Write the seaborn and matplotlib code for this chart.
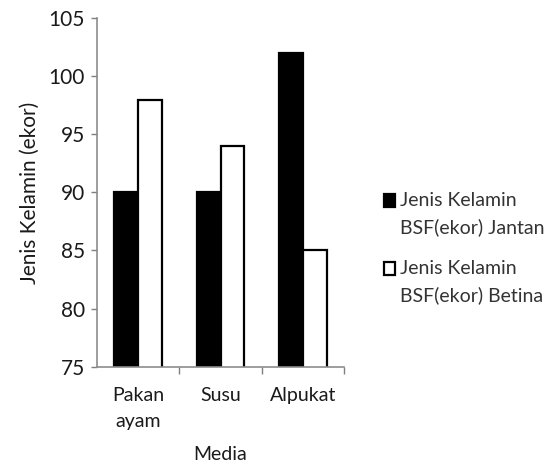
import matplotlib
matplotlib.use("Agg")
import matplotlib.pyplot as plt
import seaborn as sns
import pandas as pd
from matplotlib.patches import Rectangle
from matplotlib.legend_handler import HandlerPatch

media = ["Pakan\nayam", "Susu", "Alpukat"]
jantan = [90, 90, 102]
betina = [98, 94, 85]
series = ["Jenis Kelamin\nBSF(ekor) Jantan", "Jenis Kelamin\nBSF(ekor) Betina"]
yticks = [75, 80, 85, 90, 95, 100, 105]

df = pd.DataFrame({
    "Media": media * 2,
    "Jumlah": jantan + betina,
    "Seri": [series[0]] * len(media) + [series[1]] * len(media),
})

sns.set_style("white")
plt.rcParams["font.family"] = ["Lato", "DejaVu Sans"]

fig = plt.figure(figsize=(5.55, 4.67), dpi=100)
ax = fig.add_axes([0.175, 0.215, 0.445, 0.746])

sns.barplot(data=df, x="Media", y="Jumlah", hue="Seri", hue_order=series,
            palette=["black", "white"], edgecolor="black", linewidth=1.6,
            width=0.58, saturation=1, ax=ax)

ax.set_ylim(75, 105)
ax.set_yticks(yticks)
ax.set_xlim(-0.5, 2.5)
ax.tick_params(axis="y", labelsize=15, colors="#7f7f7f", labelcolor="#1a1a1a",
               length=4, width=1, direction="out", left=True, pad=5)
ax.tick_params(axis="x", which="major", length=0, labelsize=14, labelcolor="#1a1a1a", pad=15)
ax.set_xticks([0.5, 1.5, 2.5], minor=True)
ax.tick_params(axis="x", which="minor", length=5, width=1, color="#7f7f7f", bottom=True)
for lbl in ax.get_xticklabels():
    lbl.set_linespacing(1.6)

for side in ["top", "right"]:
    ax.spines[side].set_visible(False)
for side in ["left", "bottom"]:
    ax.spines[side].set_color("#8c8c8c")
    ax.spines[side].set_linewidth(1.2)

ax.set_xlabel("Media", fontsize=14, color="#1a1a1a", labelpad=12)
ax.set_ylabel("Jenis Kelamin (ekor)", fontsize=15, color="#1a1a1a", labelpad=6)


def top_square(legend, orig_handle, xdescent, ydescent, width, height, fontsize):
    # square key lined up with the first line of a two-line label
    return Rectangle((-xdescent, -ydescent + 10), width, height)


handles, labels = ax.get_legend_handles_labels()
leg = ax.legend(handles, labels, loc="center left", bbox_to_anchor=(1.09, 0.34),
                frameon=False, fontsize=14, handlelength=0.6, handleheight=0.6,
                handletextpad=0.25, labelspacing=1.2, labelcolor="#333333",
                handler_map={h: HandlerPatch(patch_func=top_square) for h in handles})
for t in leg.get_texts():
    t.set_linespacing(1.65)

fig.savefig("out.png", dpi=100)
